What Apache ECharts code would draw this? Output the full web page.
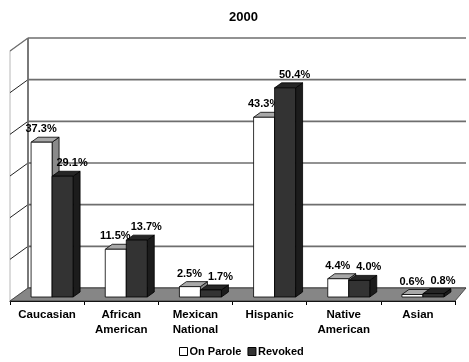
<!DOCTYPE html>
<html>
<head>
<meta charset="utf-8">
<script src="https://cdn.jsdelivr.net/npm/echarts@6/dist/echarts.min.js"></script>
<style>
html,body{margin:0;padding:0;background:#fff;}
#chart{width:469px;height:362px;}
</style>
</head>
<body>
<div id="chart"></div>
<script>
const categories = ['Caucasian', 'African\nAmerican', 'Mexican\nNational', 'Hispanic', 'Native\nAmerican', 'Asian'];
const onParole = [37.3, 11.5, 2.5, 43.3, 4.4, 0.6];
const revoked = [29.1, 13.7, 1.7, 50.4, 4.0, 0.8];
const yTicks = [0, 10, 20, 30, 40, 50, 60];
const seriesNames = ['On Parole', 'Revoked'];

const FONT = '"Liberation Sans", Arial, sans-serif';
const BACK_DXL = 18, BACK_DXR = 11, BACK_DY = -13;
const BAR_W = 21, DEPTH_X = 7, DEPTH_Y = 5;
const styles = [
  {front: '#ffffff', top: '#a8a8a8', side: '#8a8a8a', labelShift: -4},
  {front: '#333333', top: '#262626', side: '#1c1c1c', labelShift: 6}
];

const chart = echarts.init(document.getElementById('chart'), null, {renderer: 'canvas'});

function wallsRender(params, api) {
  const band = api.size([1, 0])[0];
  const c0 = api.coord([0, 0]);
  const x0 = c0[0] - band / 2;
  const x1 = x0 + categories.length * band;
  const yb = c0[1];
  const yt = api.coord([0, yTicks[yTicks.length - 1]])[1];
  const children = [];
  children.push({type: 'polygon', shape: {points: [[x0 + BACK_DXL, yt + BACK_DY], [x1 + BACK_DXR, yt + BACK_DY], [x1 + BACK_DXR, yb + BACK_DY], [x0 + BACK_DXL, yb + BACK_DY]]}, style: {fill: '#ffffff'}});
  children.push({type: 'polygon', shape: {points: [[x0, yb], [x0, yt], [x0 + BACK_DXL, yt + BACK_DY], [x0 + BACK_DXL, yb + BACK_DY]]}, style: {fill: '#ffffff', stroke: '#b8b8b8', lineWidth: 1}});
  yTicks.forEach(function (t) {
    const y = api.coord([0, t])[1];
    children.push({type: 'line', shape: {x1: x0 + BACK_DXL, y1: y + BACK_DY, x2: x1 + BACK_DXR, y2: y + BACK_DY}, style: {stroke: '#6e6e6e', lineWidth: 1.6}});
    if (t > 0 && t < yTicks[yTicks.length - 1]) {
      children.push({type: 'line', shape: {x1: x0, y1: y, x2: x0 + BACK_DXL, y2: y + BACK_DY}, style: {stroke: '#222', lineWidth: 1}});
    }
  });
  children.push({type: 'line', shape: {x1: x0, y1: yt, x2: x0 + BACK_DXL, y2: yt + BACK_DY}, style: {stroke: '#6e6e6e', lineWidth: 1.2}});
  children.push({type: 'line', shape: {x1: x0 + BACK_DXL, y1: yt + BACK_DY, x2: x0 + BACK_DXL, y2: yb + BACK_DY}, style: {stroke: '#6e6e6e', lineWidth: 1.8}});
  children.push({type: 'polygon', shape: {points: [[x0, yb], [x0 + BACK_DXL, yb + BACK_DY], [x1 + BACK_DXR, yb + BACK_DY], [x1, yb]]}, style: {fill: '#868686', stroke: '#333', lineWidth: 0.8}});
  return {type: 'group', children: children};
}

function makeBarRender(s) {
  return function (params, api) {
    const i = api.value(0);
    const v = api.value(1);
    const c = api.coord([i, v]);
    const b = api.coord([i, 0]);
    const st = styles[s];
    const xl = c[0] - BAR_W + s * BAR_W;
    const xr = xl + BAR_W;
    const yt = c[1], yb = b[1];
    const line = {stroke: '#000', lineWidth: 0.8};
    return {
      type: 'group',
      children: [
        {type: 'polygon', shape: {points: [[xr, yt], [xr + DEPTH_X, yt - DEPTH_Y], [xr + DEPTH_X, yb - DEPTH_Y], [xr, yb]]}, style: Object.assign({fill: st.side}, line)},
        {type: 'polygon', shape: {points: [[xl, yt], [xl + DEPTH_X, yt - DEPTH_Y], [xr + DEPTH_X, yt - DEPTH_Y], [xr, yt]]}, style: Object.assign({fill: st.top}, line)},
        {type: 'rect', shape: {x: xl, y: yt, width: BAR_W, height: yb - yt}, style: Object.assign({fill: st.front}, line)},
        {type: 'text', style: {text: v.toFixed(1) + '%', x: (xl + xr + DEPTH_X) / 2 + st.labelShift, y: yt - DEPTH_Y - 8, align: 'center', verticalAlign: 'middle', font: 'bold 11px ' + FONT, fill: '#000'}}
      ]
    };
  };
}

const option = {
  animation: false,
  backgroundColor: '#ffffff',
  title: {text: '2000', left: 224, top: 6, textStyle: {fontFamily: FONT, fontWeight: 'bold', fontSize: 13, color: '#000'}},
  legend: {
    bottom: 5, left: 179, itemWidth: 8, itemHeight: 8, itemGap: 6, padding: 0,
    textStyle: {fontFamily: FONT, fontWeight: 'bold', fontSize: 11, color: '#000', padding: [0, 0, 0, -3]},
    data: [
      {name: seriesNames[0], icon: 'rect', itemStyle: {color: '#ffffff', borderColor: '#000', borderWidth: 1}},
      {name: seriesNames[1], icon: 'rect', itemStyle: {color: '#333333', borderColor: '#000', borderWidth: 1}}
    ]
  },
  grid: [
    {left: 10, right: 14, top: 51, bottom: 61},
    {left: 15, right: 9, top: 48, bottom: 65}
  ],
  xAxis: [
    {type: 'category', gridIndex: 0, data: categories, boundaryGap: true,
     axisLine: {lineStyle: {color: '#000', width: 1}},
     axisTick: {show: true, length: 4, lineStyle: {color: '#000'}},
     axisLabel: {interval: 0, margin: 6, fontFamily: FONT, fontWeight: 'bold', fontSize: 11.5, color: '#000', lineHeight: 15}},
    {type: 'category', gridIndex: 1, data: categories, show: false}
  ],
  yAxis: [
    {type: 'value', gridIndex: 0, min: 0, max: 60, interval: 10, show: false},
    {type: 'value', gridIndex: 1, min: 0, max: 60, interval: 10, show: false}
  ],
  series: [
    {type: 'custom', name: 'walls', xAxisIndex: 0, yAxisIndex: 0, z: 1, silent: true, renderItem: wallsRender, data: [[0, 0]]},
    {type: 'custom', name: seriesNames[0], xAxisIndex: 1, yAxisIndex: 1, z: 3, renderItem: makeBarRender(0),
     itemStyle: {color: '#ffffff', borderColor: '#000'},
     data: onParole.map(function (v, i) { return [i, v]; })},
    {type: 'custom', name: seriesNames[1], xAxisIndex: 1, yAxisIndex: 1, z: 4, renderItem: makeBarRender(1),
     itemStyle: {color: '#333333', borderColor: '#000'},
     data: revoked.map(function (v, i) { return [i, v]; })}
  ]
};
chart.setOption(option);
</script>
</body>
</html>
